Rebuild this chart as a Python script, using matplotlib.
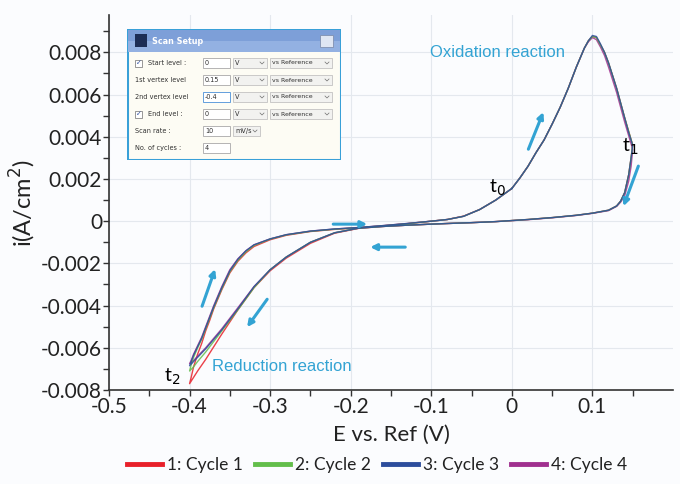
import matplotlib
matplotlib.use("Agg")
import matplotlib.pyplot as plt
from matplotlib.patches import Rectangle
from matplotlib.lines import Line2D

plt.rcParams['font.family'] = ['Lato', 'DejaVu Sans']

# potential of each sample (V): 0 -> 0.15 -> -0.4 -> 0
E = [0.00, 0.01, 0.02, 0.03, 0.04, 0.05, 0.06, 0.07, 0.08, 0.09, 0.095, 0.10,
     0.105, 0.11, 0.115, 0.12, 0.13, 0.14, 0.145, 0.15,
     0.148, 0.145, 0.14, 0.135, 0.13, 0.12, 0.10, 0.08, 0.05, 0.02, -0.02,
     -0.05, -0.08, -0.10, -0.13, -0.16, -0.19, -0.22, -0.25, -0.28, -0.30,
     -0.32, -0.34, -0.36, -0.37, -0.38, -0.39, -0.395, -0.40,
     -0.398, -0.395, -0.39, -0.385, -0.38, -0.375, -0.37, -0.36, -0.35, -0.34,
     -0.33, -0.32, -0.30, -0.28, -0.25, -0.22, -0.19, -0.16, -0.13, -0.10,
     -0.08, -0.06, -0.04, -0.02, 0.00]

# current density, mA/cm2
cycle1 = [1.55, 2.05, 2.6, 3.25, 3.85, 4.6, 5.4, 6.3, 7.3, 8.2, 8.55, 8.75,
          8.7, 8.35, 8.0, 7.5, 6.3, 4.9, 4.25, 3.6,
          3.0, 2.2, 1.35, 0.95, 0.72, 0.52, 0.38, 0.28, 0.17, 0.08, -0.02,
          -0.07, -0.11, -0.14, -0.19, -0.25, -0.34, -0.57, -1.05, -1.75, -2.35,
          -3.15, -4.2, -5.35, -5.95, -6.55, -7.1, -7.4, -7.7,
          -7.4, -6.9, -6.3, -5.8, -5.2, -4.7, -4.15, -3.25, -2.45, -1.9,
          -1.5, -1.2, -0.88, -0.67, -0.49, -0.39, -0.31, -0.22, -0.12, 0.0,
          0.08, 0.24, 0.55, 1.0, 1.55]
cycle2 = [1.55, 2.05, 2.6, 3.25, 3.85, 4.6, 5.4, 6.3, 7.3, 8.2, 8.55, 8.75,
          8.7, 8.35, 8.0, 7.5, 6.3, 4.9, 4.25, 3.6,
          3.0, 2.2, 1.35, 0.95, 0.72, 0.52, 0.38, 0.28, 0.17, 0.08, -0.02,
          -0.07, -0.11, -0.14, -0.19, -0.25, -0.33, -0.55, -1.0, -1.7, -2.3,
          -3.15, -4.2, -5.2, -5.7, -6.2, -6.65, -6.9, -7.1,
          -6.8, -6.45, -6.0, -5.6, -5.1, -4.6, -4.1, -3.2, -2.4, -1.85,
          -1.45, -1.15, -0.85, -0.65, -0.48, -0.38, -0.31, -0.22, -0.12, 0.0,
          0.08, 0.23, 0.55, 1.0, 1.55]
cycle3 = [1.55, 2.05, 2.6, 3.25, 3.85, 4.6, 5.4, 6.3, 7.3, 8.2, 8.55, 8.8,
          8.75, 8.4, 8.0, 7.5, 6.3, 4.9, 4.2, 3.6,
          3.0, 2.2, 1.35, 0.95, 0.72, 0.52, 0.38, 0.28, 0.17, 0.08, -0.02,
          -0.07, -0.11, -0.14, -0.19, -0.25, -0.33, -0.55, -1.0, -1.7, -2.3,
          -3.1, -4.15, -5.15, -5.6, -6.05, -6.45, -6.65, -6.85,
          -6.65, -6.35, -5.95, -5.55, -5.05, -4.55, -4.05, -3.15, -2.35, -1.8,
          -1.4, -1.12, -0.84, -0.64, -0.47, -0.37, -0.3, -0.21, -0.11, 0.0,
          0.08, 0.23, 0.55, 1.0, 1.55]
cycle4 = [1.55, 2.05, 2.6, 3.25, 3.85, 4.6, 5.4, 6.3, 7.3, 8.2, 8.5, 8.7,
          8.6, 8.25, 7.85, 7.3, 6.1, 4.7, 4.05, 3.4,
          2.6, 1.9, 1.2, 0.9, 0.7, 0.5, 0.37, 0.27, 0.16, 0.07, -0.02,
          -0.07, -0.11, -0.14, -0.19, -0.25, -0.33, -0.55, -1.0, -1.7, -2.3,
          -3.1, -4.1, -5.1, -5.55, -6.0, -6.4, -6.6, -6.75,
          -6.6, -6.3, -5.9, -5.5, -5.0, -4.5, -4.0, -3.1, -2.3, -1.78,
          -1.4, -1.12, -0.84, -0.64, -0.47, -0.37, -0.3, -0.21, -0.11, 0.0,
          0.08, 0.23, 0.55, 1.0, 1.55]

cycles = [cycle1, cycle4, cycle2, cycle3]
names = ['1: Cycle 1', '4: Cycle 4', '2: Cycle 2', '3: Cycle 3']
colors = ['#e8202a', '#a0308f', '#63be4b', '#2c4d9c']

x_ticks = [-0.5, -0.4, -0.3, -0.2, -0.1, 0, 0.1]
x_labels = ['-0.5', '-0.4', '-0.3', '-0.2', '-0.1', '0', '0.1']
y_ticks = [-0.008, -0.006, -0.004, -0.002, 0, 0.002, 0.004, 0.006, 0.008]
y_labels = ['-0.008', '-0.006', '-0.004', '-0.002', '0', '0.002', '0.004', '0.006', '0.008']

fig = plt.figure(figsize=(6.8, 4.84), dpi=100, facecolor='#fbfcfe')
ax = fig.add_axes([109 / 680, 94 / 484, 564 / 680, 375 / 484])
ax.set_facecolor('#fbfcfe')

for cyc, col, nm in zip(cycles, colors, names):
    ax.plot(E, [v / 1000 for v in cyc], color=col, lw=1.0, alpha=0.85, label=nm)

ax.set_xlim(-0.5, 0.2)
ax.set_ylim(-0.008, 0.00977)
ax.set_xticks(x_ticks)
ax.set_xticklabels(x_labels)
ax.set_yticks(y_ticks)
ax.set_yticklabels(y_labels)
ax.set_xticks([-0.45, -0.35, -0.25, -0.15, -0.05, 0.05, 0.15], minor=True)
ax.set_yticks([-0.007, -0.005, -0.003, -0.001, 0.001, 0.003, 0.005, 0.007, 0.009], minor=True)
ax.tick_params(which='both', direction='out', length=4, width=1, colors='#333333',
               labelsize=15, labelcolor='#222222', pad=1)
ax.grid(True, which='major', color='#e4e8ee', lw=0.8)
for s in ['top', 'right']:
    ax.spines[s].set_visible(False)
for s in ['left', 'bottom']:
    ax.spines[s].set_color('#333333')
    ax.spines[s].set_linewidth(1.2)

ax.set_xlabel('E vs. Ref (V)', fontsize=16, color='#222222', labelpad=6)
ax.set_ylabel('i(A/cm$^2$)', fontsize=17, color='#222222', labelpad=2)

# annotations
cyan = '#33a3d3'
ax.text(-0.018, 0.0080, 'Oxidation reaction', color=cyan, fontsize=12,
        family='Liberation Sans', ha='center', va='center')
ax.text(-0.372, -0.0069, 'Reduction reaction', color=cyan, fontsize=12,
        family='Liberation Sans', ha='left', va='center')
ax.text(-0.018, 0.0016, 't$_0$', fontsize=14, ha='center', va='center')
ax.text(0.147, 0.0035, 't$_1$', fontsize=14, ha='center', va='center')
ax.text(-0.422, -0.0074, 't$_2$', fontsize=14, ha='center', va='center')

arrows = [((0.0205, 0.00341), (0.0391, 0.00517)),
          ((0.157, 0.00261), (0.1385, 0.00071)),
          ((-0.2217, -0.00014), (-0.1795, -0.00014)),
          ((-0.1323, -0.00123), (-0.1758, -0.00123)),
          ((-0.3845, -0.00403), (-0.3683, -0.00227)),
          ((-0.3037, -0.00370), (-0.3286, -0.00502))]
for start, end in arrows:
    ax.annotate('', xy=end, xytext=start,
                arrowprops=dict(arrowstyle='-|>', color=cyan, lw=2.2,
                                mutation_scale=9, shrinkA=0, shrinkB=0))

handles = [Line2D([], [], color=c, lw=3.5) for c in ['#e8202a', '#63be4b', '#2c4d9c', '#a0308f']]
fig.legend(handles, ['1: Cycle 1', '2: Cycle 2', '3: Cycle 3', '4: Cycle 4'],
           loc='center', bbox_to_anchor=(377 / 680, 1 - 465 / 484), ncol=4,
           frameon=False, fontsize=12.5, handlelength=2.0, handletextpad=0.3,
           columnspacing=0.7, labelcolor='#222222')

# inset: scan setup dialog
ins = fig.add_axes([127 / 680, (484 - 160) / 484, 214 / 680, 131 / 484])
ins.set_xlim(0, 214)
ins.set_ylim(131, 0)
ins.axis('off')
ins.add_patch(Rectangle((0, 0), 214, 131, facecolor='#fdfcf4', edgecolor='#39a0d8', lw=2.2))
ins.add_patch(Rectangle((1, 1), 212, 22, facecolor='#7d9fd8', edgecolor='none'))
ins.add_patch(Rectangle((1, 12), 212, 11, facecolor='#93b1e2', edgecolor='none'))
ins.add_patch(Rectangle((8, 5), 12, 13, facecolor='#1c2d55', edgecolor='none'))
ins.text(25, 12, 'Scan Setup', color='white', fontsize=5.8, va='center',
         family='DejaVu Sans', fontweight='bold')
ins.add_patch(Rectangle((193, 6), 13, 12, facecolor='#dfe6f3', edgecolor='#8090b0', lw=0.6))

row_y = [34, 51, 68, 85, 102, 119]
row_names = ['Start level :', '1st vertex level', '2nd vertex level', 'End level :',
             'Scan rate :', 'No. of cycles :']
row_checked = [True, False, False, True, False, False]
row_values = ['0', '0.15', '-0.4', '0', '10', '4']
row_units = ['V', 'V', 'V', 'V', 'mV/s', None]
row_ref = [True, True, True, True, False, False]

for y, nm, chk, val, unit, ref in zip(row_y, row_names, row_checked, row_values, row_units, row_ref):
    lx = 8
    if chk:
        ins.add_patch(Rectangle((8, y - 3.5), 7, 7, facecolor='white', edgecolor='#707070', lw=0.5))
        ins.text(11.5, y, '\u2713', fontsize=5, ha='center', va='center',
                 color='#3050a0', family='DejaVu Sans')
        lx = 21
    ins.text(lx, y, nm, fontsize=4.7, va='center', color='#303030', family='DejaVu Sans')
    edge = '#4a90d8' if val == '-0.4' else '#a8a8a8'
    ins.add_patch(Rectangle((76, y - 5), 27, 10, facecolor='white', edgecolor=edge, lw=0.6))
    ins.text(78, y, val, fontsize=4.7, va='center', color='#303030', family='DejaVu Sans')
    if unit:
        w = 34 if unit == 'V' else 27
        ins.add_patch(Rectangle((106, y - 5), w, 10, facecolor='#f2f2f0', edgecolor='#b8b8b8', lw=0.5))
        ins.text(108, y, unit, fontsize=4.7, va='center', color='#303030', family='DejaVu Sans')
        ins.plot([106 + w - 7, 106 + w - 5, 106 + w - 3], [y - 1, y + 1, y - 1], color='#707070', lw=0.5)
    if ref:
        ins.add_patch(Rectangle((143, y - 5), 62, 10, facecolor='#f2f2f0', edgecolor='#b8b8b8', lw=0.5))
        ins.text(145, y, 'vs Reference', fontsize=4.5, va='center', color='#303030', family='DejaVu Sans')
        ins.plot([198, 200, 202], [y - 1, y + 1, y - 1], color='#707070', lw=0.5)

fig.savefig('out.png', dpi=100, facecolor=fig.get_facecolor())
